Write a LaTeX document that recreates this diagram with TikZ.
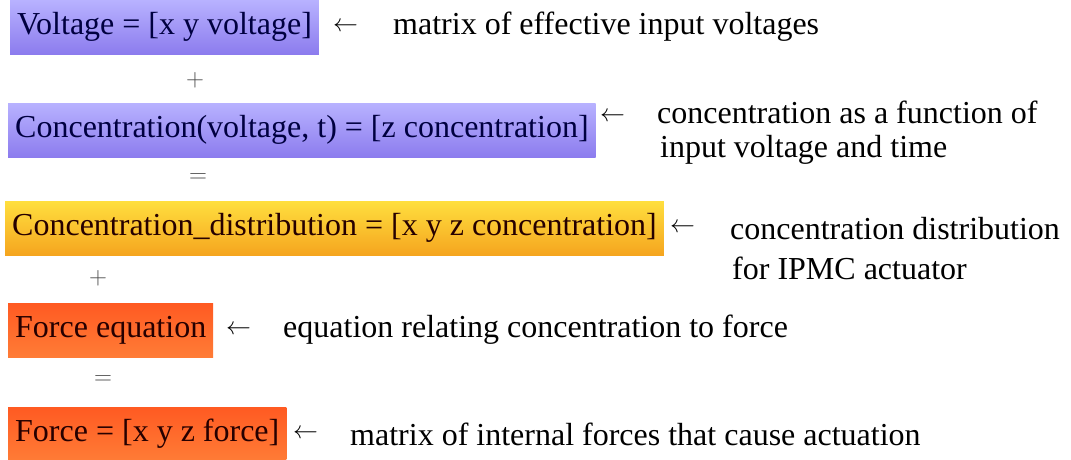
\documentclass[tikz,border=0pt]{standalone}
\usepackage{fontspec}
\setmainfont{LiberationSerif}[Extension=.ttf, UprightFont=*-Regular, BoldFont=*-Bold]
\usepackage{tikz}
\usetikzlibrary{positioning}

\definecolor{lavtop}{HTML}{B8B2FF}
\definecolor{lavbot}{HTML}{8C7CEE}
\definecolor{goldtop}{HTML}{FFDF3E}
\definecolor{goldbot}{HTML}{F5A51F}
\definecolor{redtop}{HTML}{FF5A22}
\definecolor{redbot}{HTML}{FF7C36}

\begin{document}
\begin{tikzpicture}[
  x=1pt, y=-1pt,
  box/.style={anchor=west, inner xsep=7pt, inner ysep=0pt, minimum height=54pt, font=\fontsize{32}{36}\selectfont},
  vbox/.style={box, top color=lavtop, bottom color=lavbot, text=black!75!blue},
  gbox/.style={box, top color=goldtop, bottom color=goldbot, text=black!85!red},
  rbox/.style={box, top color=redtop, bottom color=redbot, text=black!85!red},
  note/.style={anchor=west, inner sep=0pt, font=\fontsize{32}{36}\selectfont},
  larr/.style={anchor=west, inner sep=0pt, font=\fontsize{24}{24}\selectfont},
  op/.style={inner sep=0pt, font=\fontsize{26}{26}\selectfont, text=black!70}
]
\useasboundingbox (0,0) rectangle (1071,459);

% boxes
\node[vbox] (volt) at (10,27) {Voltage = [x y voltage]};
\node[vbox] (conc) at (8,130) {Concentration(voltage, t) = [z concentration]};
\node[gbox] (dist) at (5,228) {Concentration\_distribution = [x y z concentration]};
\node[rbox] (feq) at (8,330) {Force equation};
\node[rbox] (force) at (8,434) {Force = [x y z force]};

% operators between rows
\node[op] (p1) at (195,80) {$+$};
\node[op] (e1) at (198,178) {$=$};
\node[op] (p2) at (98,278) {$+$};
\node[op] (e2) at (103,380) {$=$};

% arrows
\node[larr] (a1) at (333,27) {$\leftarrow$};
\node[larr] (a2) at (600,117) {$\leftarrow$};
\node[larr] (a3) at (670,228) {$\leftarrow$};
\node[larr] (a4) at (226,330) {$\leftarrow$};
\node[larr] (a5) at (293,434) {$\leftarrow$};

% notes
\node[note] (n1) at (393,27) {matrix of effective input voltages};
\node[note] (n2) at (657,112) {concentration as a function of};
\node[note] (n2b) at (660,150) {input voltage and time};
\node[note] (n3) at (730,229) {concentration distribution};
\node[note] (n3b) at (732,268) {for IPMC actuator};
\node[note] (n4) at (283,330) {equation relating concentration to force};
\node[note] (n5) at (350,434) {matrix of internal forces that cause actuation};
\end{tikzpicture}
\end{document}
